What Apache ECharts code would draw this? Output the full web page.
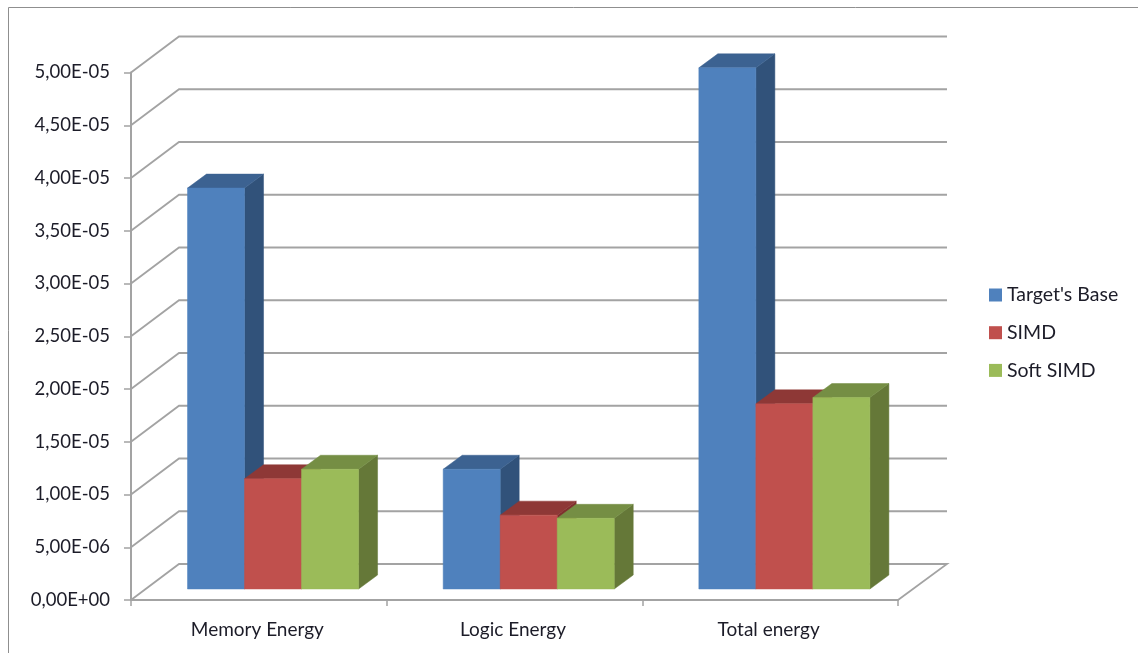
<!DOCTYPE html>
<html>
<head>
<meta charset="utf-8">
<style>html,body{margin:0;padding:0;background:#fff}#chart{width:1138px;height:653px}</style>
<script src="https://cdn.jsdelivr.net/npm/echarts@6/dist/echarts.min.js"></script>
</head>
<body>
<div id="chart"></div>
<script>
const categories = ['Memory Energy', 'Logic Energy', 'Total energy'];
const targetBase = [3.80e-5, 1.135e-5, 4.94e-5];
const simd = [1.045e-5, 0.70e-5, 1.755e-5];
const softSimd = [1.135e-5, 0.67e-5, 1.815e-5];
const tickValues = [0, 5e-6, 1e-5, 1.5e-5, 2e-5, 2.5e-5, 3e-5, 3.5e-5, 4e-5, 4.5e-5, 5e-5];
const tickLabels = ['0,00E+00', '5,00E-06', '1,00E-05', '1,50E-05', '2,00E-05', '2,50E-05',
  '3,00E-05', '3,50E-05', '4,00E-05', '4,50E-05', '5,00E-05'];

const FONT = 'Lato, "Open Sans", sans-serif';
const TEXT = '#1c1c28';
const AXIS = '#a3a3a3';

// Oblique projection used for the fake 3D box
const WALL = { dx: 48, dy: 36 };      // front of the floor to the back wall
const PLANE = { dx: 14.2, dy: 11 };   // front of the floor to the front of the bars
const BAR = { dx: 19, dy: 14, band: 0.223 };

function renderWalls(params, api) {
  const cs = params.coordSys;
  const y = api.coord([0, api.value(0)])[1];
  const left = cs.x;
  const right = cs.x + cs.width;
  const pts = [[left, y], [left + WALL.dx, y - WALL.dy], [right + WALL.dx + 1, y - WALL.dy]];
  if (api.value(0) === 0) pts.push([right, y]);
  return {
    type: 'polyline',
    shape: { points: pts },
    style: { fill: 'none', stroke: AXIS, lineWidth: 1.8 }
  };
}

function barRenderer(seriesIndex, front, top, side) {
  return function (params, api) {
    const idx = api.value(0);
    const base = api.coord([idx, 0]);
    const head = api.coord([idx, api.value(1)]);
    const w = api.size([1, 0])[0] * BAR.band;
    const x0 = base[0] + PLANE.dx - 1.5 * w + seriesIndex * w;
    const x1 = x0 + w;
    const yb = base[1] - PLANE.dy;
    const yt = head[1] - PLANE.dy;
    const poly = (points, fill) => ({
      type: 'polygon',
      shape: { points },
      style: { fill, stroke: fill, lineWidth: 0.5 }
    });
    return {
      type: 'group',
      children: [
        poly([[x1, yt], [x1 + BAR.dx, yt - BAR.dy], [x1 + BAR.dx, yb - BAR.dy], [x1, yb]], side),
        poly([[x0, yt], [x0 + BAR.dx, yt - BAR.dy], [x1 + BAR.dx, yt - BAR.dy], [x1, yt]], top),
        poly([[x0, yt], [x1, yt], [x1, yb], [x0, yb]], front)
      ]
    };
  };
}

const rows = values => values.map((v, i) => [i, v]);

const chart = echarts.init(document.getElementById('chart'), null, { renderer: 'canvas' });
chart.setOption({
  animation: false,
  backgroundColor: '#fff',
  grid: { left: 131, right: 240, top: 72.5, bottom: 53, containLabel: false },
  legend: {
    orient: 'vertical',
    left: 984,
    top: 280,
    icon: 'rect',
    itemWidth: 13,
    itemHeight: 13,
    itemGap: 17.7,
    textStyle: { fontFamily: FONT, fontSize: 19.5, color: TEXT, padding: [0, 0, 0, 0] },
    data: ["Target's Base", 'SIMD', 'Soft SIMD']
  },
  xAxis: {
    type: 'category',
    data: categories,
    axisLine: { lineStyle: { color: AXIS, width: 2 } },
    axisTick: { show: true, length: 6, lineStyle: { color: AXIS, width: 1.5 } },
    axisLabel: { fontFamily: FONT, fontSize: 19, color: TEXT, margin: 20, padding: [0, 3, 0, 0] },
    splitLine: { show: false }
  },
  yAxis: {
    type: 'value',
    min: 0,
    max: 5e-5,
    interval: 5e-6,
    axisLine: { show: true, lineStyle: { color: AXIS, width: 2 } },
    axisTick: { show: true, length: 7, lineStyle: { color: AXIS, width: 1.5 } },
    axisLabel: {
      fontFamily: FONT, fontSize: 18.5, color: TEXT, margin: 21, padding: [8, 0, 0, 0],
      formatter: v => tickLabels[tickValues.findIndex(t => Math.abs(t - v) < 1e-9)]
    },
    splitLine: { show: false }
  },
  series: [
    {
      name: 'walls', type: 'custom', clip: false, z: 1,
      data: tickValues.map(v => [v]),
      encode: { y: 0 },
      renderItem: renderWalls
    },
    {
      name: "Target's Base", type: 'custom', clip: false, z: 2,
      itemStyle: { color: '#4F81BD' },
      data: rows(targetBase), encode: { x: 0, y: 1 },
      renderItem: barRenderer(0, '#4F81BD', '#3C6291', '#31527A')
    },
    {
      name: 'SIMD', type: 'custom', clip: false, z: 3,
      itemStyle: { color: '#C0504D' },
      data: rows(simd), encode: { x: 0, y: 1 },
      renderItem: barRenderer(1, '#C0504D', '#8E3836', '#7F302E')
    },
    {
      name: 'Soft SIMD', type: 'custom', clip: false, z: 4,
      itemStyle: { color: '#9BBB59' },
      data: rows(softSimd), encode: { x: 0, y: 1 },
      renderItem: barRenderer(2, '#9BBB59', '#758E44', '#657838')
    }
  ],
  graphic: [
    {
      type: 'polyline',
      silent: true,
      shape: { points: [[8.5, 653], [8.5, 7.5], [1138, 7.5]] },
      style: { fill: 'none', stroke: '#8f8f8f', lineWidth: 1 }
    }
  ]
});
</script>
</body>
</html>
